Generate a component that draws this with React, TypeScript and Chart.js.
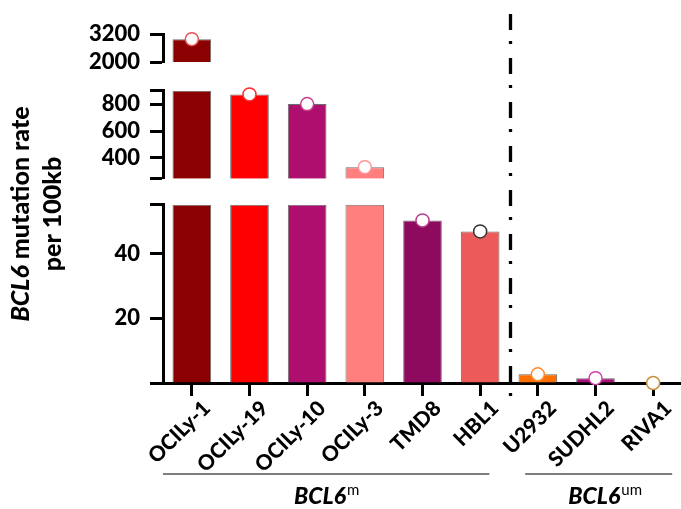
import React, { useEffect, useRef } from 'react';
import { Chart, registerables } from 'chart.js';

Chart.register(...registerables);

// ---- data ----
const categories = ['OCILy-1', 'OCILy-19', 'OCILy-10', 'OCILy-3', 'TMD8', 'HBL1', 'U2932', 'SUDHL2', 'RIVA1'];
const values = [2980, 873, 801, 332, 50.2, 46.8, 2.7, 1.5, 0];
const barColors = ['#8B0000', '#FF0000', '#AE0F6E', '#FF7F7F', '#8E0A5E', '#EC5A5A', '#FF7000', '#A90F78', 'rgba(0,0,0,0)'];
const dotColors = ['#E65050', '#FF2a2a', '#C8408E', '#FF9494', '#B8408A', '#333333', '#FF8A30', '#D040A8', '#C8913E'];

// broken y axis segments [min, max] and labelled ticks
const segTop = [2000, 3200];
const segMid = [245, 900];
const segBottom = [0, 55];
const ticksTop = [2000, 3200];
const ticksMid = [400, 600, 800];
const ticksBottom = [20, 40];

const groupM = 'BCL6';
const groupMSup = 'm';
const groupUm = 'BCL6';
const groupUmSup = 'um';

const FONT = 'Lato';
const W = '900';

export default function App() {
  const ref = useRef<HTMLCanvasElement | null>(null);

  useEffect(() => {
    const canvas = ref.current;
    if (!canvas) return;

    const segments = [
      { id: 'yTop', range: segTop, ticks: ticksTop },
      { id: 'yMid', range: segMid, ticks: ticksMid },
      { id: 'yBot', range: segBottom, ticks: ticksBottom },
    ];

    const yAxis = (range: number[], labelled: number[], weight: number) => ({
      type: 'linear',
      position: 'left',
      stack: 'y',
      stackWeight: weight,
      min: range[0],
      max: range[1],
      afterBuildTicks: (s: any) => {
        const vals = Array.from(new Set([range[0], ...labelled, range[1]])).sort((a, b) => a - b);
        s.ticks = vals.map((v) => ({ value: v }));
      },
      afterFit: (s: any) => {
        s.width = 163;
      },
      ticks: {
        callback: (v: any) => (labelled.includes(Number(v)) ? String(v) : ''),
        font: { family: FONT, weight: W, size: 22 },
        color: '#000',
        padding: 10,
        autoSkip: false,
      },
      grid: { drawOnChartArea: false, drawTicks: true, tickLength: 13, tickWidth: 3, tickColor: '#000' },
      border: { display: true, color: '#000', width: 3 },
    });

    const gapAxis = (weight: number) => ({
      type: 'linear',
      position: 'left',
      stack: 'y',
      stackWeight: weight,
      ticks: { display: false },
      grid: { display: false },
      border: { display: false },
      afterFit: (s: any) => {
        s.width = 163;
      },
    });

    const datasets: any[] = [];
    segments.forEach((seg) => {
      const [mn, mx] = seg.range;
      datasets.push({
        type: 'bar',
        yAxisID: seg.id,
        data: values.map((v) => (v > mn ? [mn, Math.min(v, mx)] : null)),
        backgroundColor: barColors,
        borderColor: 'rgba(60,60,60,0.75)',
        borderWidth: 1,
        borderSkipped: 'start',
        grouped: false,
        categoryPercentage: 1,
        barPercentage: 0.67,
        order: 2,
      });
    });
    segments.forEach((seg) => {
      const [mn, mx] = seg.range;
      datasets.push({
        type: 'line',
        yAxisID: seg.id,
        data: values.map((v) => (v >= mn && v <= mx ? v : null)),
        showLine: false,
        pointRadius: 6.5,
        pointHoverRadius: 6.5,
        pointBackgroundColor: '#ffffff',
        pointBorderColor: dotColors,
        pointBorderWidth: 1.5,
        clip: false,
        order: 1,
      });
    });

    const decor = {
      id: 'decor',
      afterDraw(chart: any) {
        const { ctx } = chart;
        const xs = chart.scales.x;
        const cw = xs.getPixelForValue(1) - xs.getPixelForValue(0);
        ctx.save();

        // dash-dot separator
        const sepX = (xs.getPixelForValue(5) + xs.getPixelForValue(6)) / 2 + 1.5;
        ctx.strokeStyle = '#000';
        ctx.lineWidth = 3.3;
        ctx.setLineDash([16, 11, 3, 14]);
        ctx.beginPath();
        ctx.moveTo(sepX, 14);
        ctx.lineTo(sepX, 400);
        ctx.stroke();
        ctx.setLineDash([]);

        // group lines
        const gy = 474;
        ctx.strokeStyle = '#555';
        ctx.lineWidth = 1.5;
        const l1a = xs.getPixelForValue(0) - 0.5 * cw;
        const l1b = xs.getPixelForValue(5) + 0.16 * cw;
        const l2a = xs.getPixelForValue(6) - 0.22 * cw;
        const l2b = xs.getPixelForValue(8) + 0.33 * cw;
        ctx.beginPath();
        ctx.moveTo(l1a, gy);
        ctx.lineTo(l1b, gy);
        ctx.moveTo(l2a, gy);
        ctx.lineTo(l2b, gy);
        ctx.stroke();

        const drawGroup = (main: string, sup: string, cx: number, by: number) => {
          ctx.fillStyle = '#000';
          ctx.textBaseline = 'alphabetic';
          ctx.textAlign = 'left';
          const mainFont = `italic ${W} 23px ${FONT}`;
          const supFont = `15px ${FONT}`;
          ctx.font = mainFont;
          const w1 = ctx.measureText(main).width;
          ctx.font = supFont;
          const w2 = ctx.measureText(sup).width;
          const x0 = cx - (w1 + w2) / 2;
          ctx.font = mainFont;
          ctx.fillText(main, x0, by);
          ctx.font = supFont;
          ctx.fillText(sup, x0 + w1 + 1, by - 9);
        };
        drawGroup(groupM, groupMSup, (l1a + l1b) / 2, 504);
        drawGroup(groupUm, groupUmSup, (l2a + l2b) / 2 + 6, 504);

        // y axis title (two lines, rotated)
        ctx.translate(21, 214);
        ctx.rotate(-Math.PI / 2);
        ctx.textBaseline = 'middle';
        ctx.textAlign = 'left';
        const f1 = `italic ${W} 25px ${FONT}`;
        const f2 = `${W} 25px ${FONT}`;
        ctx.font = f1;
        const a = ctx.measureText('BCL6').width;
        ctx.font = f2;
        const b = ctx.measureText(' mutation rate').width;
        const start = -(a + b) / 2;
        ctx.font = f1;
        ctx.fillText('BCL6', start, 0);
        ctx.font = f2;
        ctx.fillText(' mutation rate', start + a, 0);
        ctx.textAlign = 'center';
        ctx.fillText('per 100kb', 0, 32);
        ctx.restore();
      },
    };

    const chart = new Chart(canvas, {
      type: 'bar',
      data: { labels: categories, datasets },
      options: {
        responsive: false,
        animation: false,
        layout: { padding: { top: 34, right: 4, bottom: 0, left: 0 } },
        plugins: { legend: { display: false }, tooltip: { enabled: false } },
        scales: {
          x: {
            type: 'category',
            offset: true,
            grid: { drawOnChartArea: false, offset: false, drawTicks: true, tickLength: 13, tickWidth: 3, tickColor: '#000' },
            border: { display: true, color: '#000', width: 3 },
            ticks: {
              font: { family: FONT, weight: W, size: 21 },
              color: '#000',
              maxRotation: 45,
              minRotation: 45,
              padding: 0,
              labelOffset: 15,
              autoSkip: false,
            },
            afterFit: (s: any) => {
              s.height = 126;
            },
          },
          yBot: yAxis(segBottom, ticksBottom, 178),
          gap2: gapAxis(26),
          yMid: yAxis(segMid, ticksMid, 88),
          gap1: gapAxis(28.7),
          yTop: yAxis(segTop, ticksTop, 28),
        } as any,
      },
      plugins: [decor],
    } as any);

    return () => chart.destroy();
  }, []);

  return (
    <div style={{ position: 'fixed', left: 0, top: 0, width: 681, height: 509, overflow: 'hidden', background: '#fff' }}>
      <canvas ref={ref} width={690} height={509} style={{ display: 'block', width: 690, height: 509 }} />
    </div>
  );
}
